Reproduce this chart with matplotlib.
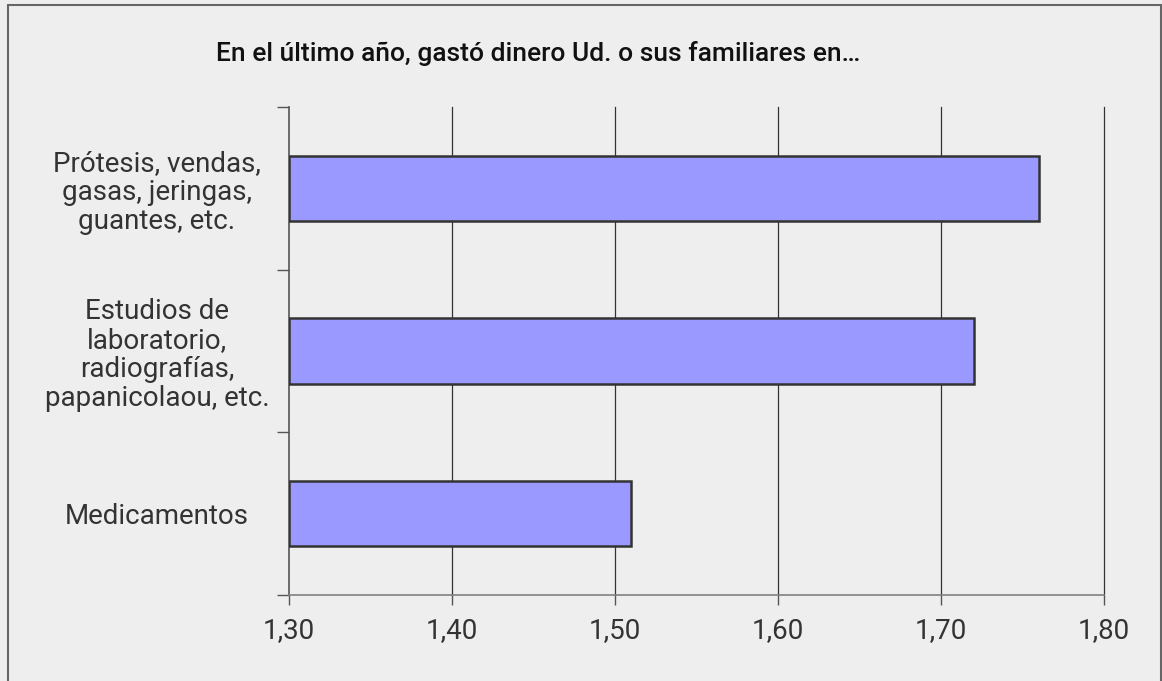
import matplotlib.pyplot as plt
import matplotlib.patches as patches
import numpy as np

plt.rcParams['font.family'] = ['Roboto', 'DejaVu Sans']

categorias = ["Medicamentos",
              "Estudios de\nlaboratorio,\nradiografías,\npapanicolaou, etc.",
              "Prótesis, vendas,\ngasas, jeringas,\nguantes, etc."]
valores = [1.51, 1.72, 1.76]
xticks = [1.30, 1.40, 1.50, 1.60, 1.70, 1.80]
titulo = "En el último año, gastó dinero Ud. o sus familiares en…"

fig = plt.figure(figsize=(11.62, 6.81), dpi=100)
fig.patch.set_facecolor("#eeeeee")
fig.patches.append(patches.Rectangle((8 / 1162, -0.05), 1153 / 1162, 1.05 - 5 / 681,
                                     transform=fig.transFigure, fill=False,
                                     edgecolor="#666666", linewidth=1.5))

ax = fig.add_axes([289 / 1162, 1 - 595 / 681, 815 / 1162, 488 / 681])
ax.set_facecolor("#eeeeee")

y = np.arange(len(categorias))
ax.barh(y, [v - 1.30 for v in valores], left=1.30, height=0.4,
        color="#9999ff", edgecolor="#333333", linewidth=1.8, zorder=3)

ax.set_xlim(1.30, 1.80)
ax.set_ylim(-0.5, len(categorias) - 0.5)
ax.set_xticks(xticks)
ax.set_xticklabels([f"{t:.2f}".replace(".", ",") for t in xticks])
for t in xticks[1:]:
    ax.axvline(t, color="#333333", linewidth=0.9, zorder=1, clip_on=False)

ax.set_yticks(y)
ax.set_yticklabels(categorias, linespacing=1.1, ha="center")
ax.set_yticks(np.arange(-0.5, len(categorias)), minor=True)
ax.tick_params(axis="y", which="major", length=0, pad=95)
ax.tick_params(axis="y", which="minor", length=9, width=1, color="#555555")
ax.tick_params(axis="x", length=7, width=1, color="#555555", pad=9)
ax.tick_params(labelsize=20, labelcolor="#333333")

for s in ["top", "right"]:
    ax.spines[s].set_visible(False)
ax.spines["left"].set_color("#555555")
ax.spines["bottom"].set_color("#808080")
ax.spines["left"].set_linewidth(1.2)
ax.spines["bottom"].set_linewidth(1.2)

fig.text(538 / 1162, 1 - 53 / 681, titulo, ha="center", va="center",
         fontsize=19, fontweight="medium", color="#111111")

fig.savefig("out.png", dpi=100, facecolor=fig.get_facecolor())
